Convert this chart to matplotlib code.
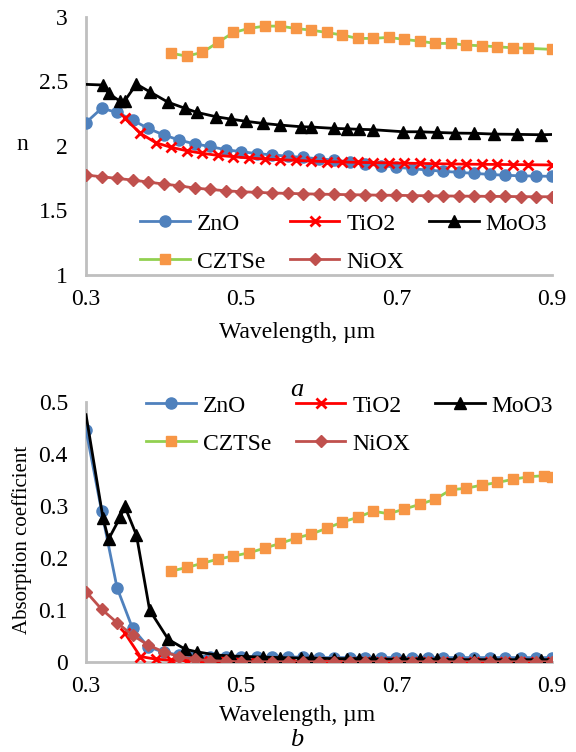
import matplotlib
matplotlib.use("Agg")
import matplotlib.pyplot as plt
from matplotlib.lines import Line2D

plt.rcParams['font.family'] = 'serif'
plt.rcParams['font.serif'] = ['Liberation Serif', 'DejaVu Serif']
plt.rcParams['font.size'] = 17

# wavelength grids (um)
wl_zno = [0.30, 0.32, 0.34, 0.36, 0.38, 0.40, 0.42, 0.44, 0.46, 0.48, 0.50,
          0.52, 0.54, 0.56, 0.58, 0.60, 0.62, 0.64, 0.66, 0.68, 0.70, 0.72,
          0.74, 0.76, 0.78, 0.80, 0.82, 0.84, 0.86, 0.88, 0.90]
wl_niox = wl_zno
wl_tio2 = [0.35, 0.37, 0.39, 0.41, 0.43, 0.45, 0.47, 0.49, 0.51, 0.53, 0.55,
           0.57, 0.59, 0.61, 0.63, 0.65, 0.67, 0.69, 0.71, 0.73, 0.75, 0.77,
           0.79, 0.81, 0.83, 0.85, 0.87, 0.90]
wl_moo3 = [0.300, 0.322, 0.329, 0.344, 0.350, 0.365, 0.382, 0.406, 0.428, 0.443,
           0.468, 0.487, 0.506, 0.528, 0.550, 0.577, 0.590, 0.620, 0.636, 0.652,
           0.670, 0.709, 0.730, 0.752, 0.775, 0.800, 0.826, 0.855, 0.886, 0.900]
wl_czts_n = [0.41, 0.43, 0.45, 0.47, 0.49, 0.51, 0.53, 0.55, 0.57, 0.59, 0.61,
             0.63, 0.65, 0.67, 0.69, 0.71, 0.73, 0.75, 0.77, 0.79, 0.81, 0.83,
             0.85, 0.87, 0.90]
wl_czts_k = [0.41, 0.43, 0.45, 0.47, 0.49, 0.51, 0.53, 0.55, 0.57, 0.59, 0.61,
             0.63, 0.65, 0.67, 0.69, 0.71, 0.73, 0.75, 0.77, 0.79, 0.81, 0.83,
             0.85, 0.87, 0.89, 0.90]

# refractive index n
n_zno = [2.18, 2.29, 2.26, 2.20, 2.135, 2.085, 2.045, 2.015, 1.995, 1.97, 1.955,
         1.94, 1.93, 1.92, 1.91, 1.90, 1.89, 1.875, 1.86, 1.847, 1.835, 1.823,
         1.813, 1.803, 1.795, 1.787, 1.779, 1.772, 1.768, 1.766, 1.764]
n_tio2 = [2.213, 2.097, 2.024, 1.988, 1.962, 1.942, 1.926, 1.916, 1.906, 1.898,
          1.892, 1.888, 1.882, 1.878, 1.875, 1.872, 1.870, 1.868, 1.866, 1.864,
          1.862, 1.860, 1.858, 1.857, 1.856, 1.855, 1.854, 1.852]
n_moo3 = [2.476, 2.471, 2.406, 2.345, 2.350, 2.478, 2.419, 2.337, 2.290, 2.259,
          2.225, 2.207, 2.190, 2.174, 2.161, 2.148, 2.146, 2.135, 2.132, 2.128,
          2.125, 2.109, 2.109, 2.104, 2.099, 2.097, 2.091, 2.089, 2.086, 2.088]
n_czts = [2.716, 2.695, 2.724, 2.801, 2.878, 2.909, 2.927, 2.927, 2.909, 2.896,
          2.878, 2.858, 2.832, 2.832, 2.840, 2.824, 2.811, 2.793, 2.793, 2.780,
          2.775, 2.767, 2.759, 2.755, 2.747]
n_niox = [1.774, 1.761, 1.748, 1.735, 1.720, 1.704, 1.691, 1.673, 1.663, 1.652,
          1.645, 1.640, 1.635, 1.632, 1.629, 1.626, 1.624, 1.622, 1.620, 1.618,
          1.617, 1.615, 1.614, 1.612, 1.611, 1.610, 1.609, 1.608, 1.607, 1.606,
          1.606]

# absorption coefficient
k_zno = [0.446, 0.291, 0.143, 0.065, 0.030, 0.019, 0.014, 0.012, 0.011, 0.011,
         0.010, 0.010, 0.010, 0.010, 0.010, 0.009, 0.009, 0.009, 0.009, 0.009,
         0.009, 0.009, 0.009, 0.009, 0.009, 0.009, 0.009, 0.009, 0.009, 0.009,
         0.009]
k_tio2 = [0.056, 0.011, 0.006, 0.004, 0.003, 0.002, 0.002, 0.001, 0.001, 0.001,
          0.001, 0.001, 0.001, 0.001, 0.001, 0.001, 0.001, 0.001, 0.001, 0.001,
          0.001, 0.001, 0.001, 0.001, 0.001, 0.001, 0.001, 0.001]
k_moo3 = [0.475, 0.276, 0.236, 0.278, 0.299, 0.244, 0.100, 0.044, 0.025, 0.020,
          0.014, 0.012, 0.011, 0.010, 0.009, 0.008, 0.008, 0.007, 0.007, 0.007,
          0.006, 0.006, 0.006, 0.006, 0.005, 0.005, 0.005, 0.005, 0.005, 0.005]
k_czts = [0.175, 0.182, 0.190, 0.198, 0.204, 0.210, 0.219, 0.228, 0.238, 0.246,
          0.257, 0.269, 0.278, 0.290, 0.285, 0.294, 0.303, 0.313, 0.331, 0.334,
          0.340, 0.345, 0.351, 0.356, 0.358, 0.355]
k_niox = [0.1355, 0.102, 0.076, 0.052, 0.033, 0.020, 0.011, 0.006, 0.003, 0.002,
          0.001, 0.001, 0.001, 0.001, 0.001, 0.001, 0.001, 0.001, 0.001, 0.001,
          0.001, 0.001, 0.001, 0.001, 0.001, 0.001, 0.001, 0.001, 0.001, 0.001,
          0.001]

c_zno = '#4f81bd'
c_tio2 = '#ff0000'
c_moo3 = '#000000'
c_czts_line = '#92d050'
c_czts_mark = '#f79646'
c_niox = '#c0504d'
grey = '#bfbfbf'

fig = plt.figure(figsize=(5.76, 7.52), dpi=100)
ax1 = fig.add_axes([0.1493, 0.6343, 0.8085, 0.3435])
ax2 = fig.add_axes([0.1493, 0.1193, 0.8085, 0.3465])


def draw(ax, zno, tio2, moo3, czts, wl_czts, niox):
    ax.plot(wl_zno, zno, color=c_zno, lw=2, marker='o', ms=8, zorder=3)
    ax.plot(wl_tio2, tio2, color=c_tio2, lw=2, marker='x', ms=7, mew=2, zorder=4)
    # MoO3 line runs to both ends, markers only at the inner points
    ax.plot(wl_moo3, moo3, color=c_moo3, lw=2, zorder=5)
    ax.plot(wl_moo3[1:-1], moo3[1:-1], ls='none', color=c_moo3, marker='^', ms=8, zorder=5)
    ax.plot(wl_czts, czts, color=c_czts_line, lw=2, marker='s', ms=7,
            mfc=c_czts_mark, mec=c_czts_mark, zorder=6)
    ax.plot(wl_niox, niox, color=c_niox, lw=2, marker='D', ms=6, zorder=7)

    ax.set_xlim(0.3, 0.9)
    ax.set_xticks([0.3, 0.5, 0.7, 0.9])
    ax.set_xticklabels(['0.3', '0.5', '0.7', '0.9'])
    for s in ['top', 'right']:
        ax.spines[s].set_visible(False)
    for s in ['left', 'bottom']:
        ax.spines[s].set_color(grey)
        ax.spines[s].set_linewidth(2)
    ax.tick_params(axis='both', length=0)
    ax.tick_params(axis='y', pad=13)
    ax.tick_params(axis='x', pad=10)
    ax.set_xlabel('Wavelength, µm')

    handles = [
        Line2D([], [], color=c_zno, lw=2, marker='o', ms=8),
        Line2D([], [], color=c_czts_line, lw=2, marker='s', ms=7, mfc=c_czts_mark, mec=c_czts_mark),
        Line2D([], [], color=c_tio2, lw=2, marker='x', ms=7, mew=2),
        Line2D([], [], color=c_niox, lw=2, marker='D', ms=6),
        Line2D([], [], color=c_moo3, lw=2, marker='^', ms=8),
    ]
    labels = ['ZnO', 'CZTSe', 'TiO2', 'NiOX', 'MoO3']
    return handles, labels


h, l = draw(ax1, n_zno, n_tio2, n_moo3, n_czts, wl_czts_n, n_niox)
ax1.set_ylim(1, 3)
ax1.set_yticks([1, 1.5, 2, 2.5, 3])
ax1.set_yticklabels(['1', '1.5', '2', '2.5', '3'])
ax1.xaxis.set_label_coords(0.453, -0.18)
ax1.legend(h, l, ncol=3, frameon=False, loc='upper left',
           bbox_to_anchor=(140 / 576, 1 - 213 / 752), bbox_transform=fig.transFigure,
           borderpad=0, borderaxespad=0, handlelength=2.1, handletextpad=0.3,
           columnspacing=1.05, labelspacing=0.7)
fig.text(22 / 576, 1 - 145 / 752, 'n', ha='center', va='center')
fig.text(297 / 576, 1 - 390 / 752, 'a', ha='center', va='center', style='italic', fontsize=19)

h, l = draw(ax2, k_zno, k_tio2, k_moo3, k_czts, wl_czts_k, k_niox)
ax2.set_ylim(0, 0.5)
ax2.set_yticks([0, 0.1, 0.2, 0.3, 0.4, 0.5])
ax2.set_yticklabels(['0', '0.1', '0.2', '0.3', '0.4', '0.5'])
ax2.xaxis.set_label_coords(0.453, -0.165)
ax2.legend(h, l, ncol=3, frameon=False, loc='upper left',
           bbox_to_anchor=(146 / 576, 1 - 395 / 752), bbox_transform=fig.transFigure,
           borderpad=0, borderaxespad=0, handlelength=2.1, handletextpad=0.3,
           columnspacing=1.05, labelspacing=0.7)
fig.text(22 / 576, 1 - 540 / 752, 'Absorption coefficient', rotation=90,
         ha='center', va='center', fontsize=15)
fig.text(297 / 576, 1 - 740 / 752, 'b', ha='center', va='center', style='italic', fontsize=19)

fig.savefig('out.png', dpi=100)
